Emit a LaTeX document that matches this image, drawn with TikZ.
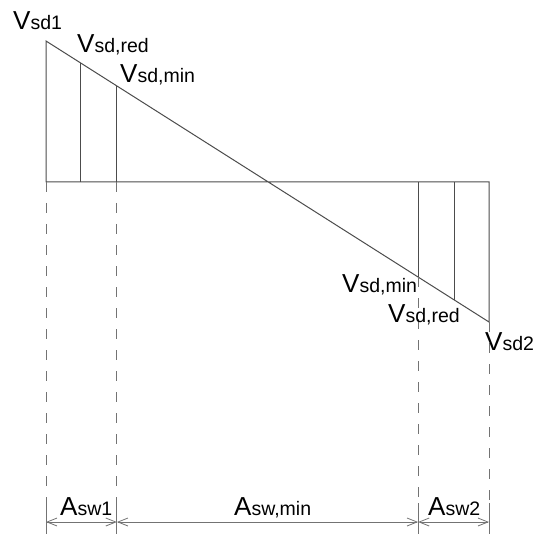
\documentclass[tikz,border=0pt]{standalone}
\usepackage{fontspec}
\setmainfont{Liberation Sans}
\usepackage{xcolor}
\usepackage{tikz}
\usetikzlibrary{arrows.meta,positioning,calc}
\definecolor{lineGray}{gray}{0.30}
\definecolor{dashGray}{gray}{0.45}
\newcommand{\shearlbl}[2]{{\fontsize{26}{28}\selectfont #1}{\fontsize{19.5}{21}\selectfont #2}}
\tikzset{
  outline/.style={draw=lineGray, line width=1pt},
  extline/.style={draw=dashGray, line width=1pt, dash pattern=on 10pt off 11pt},
  extsolid/.style={draw=dashGray, line width=1pt},
  dimarrow/.style={{Straight Barb[length=10pt,width=8pt]}-{Straight Barb[length=10pt,width=8pt]}, draw=dashGray, line width=0.8pt},
  lbl/.style={anchor=base west, inner sep=0pt, text=black}
}

\begin{document}
\begin{tikzpicture}[x=1pt, y=-1pt]
  \useasboundingbox (0,0) rectangle (533,534);
  \coordinate (top) at (46,41);
  \coordinate (bot) at (489,322);
  \coordinate (ol) at (46,182);
  \coordinate (or) at (489,182);
  \coordinate (r1) at ($(top)!0.077!(bot)$);
  \coordinate (r2) at ($(top)!0.160!(bot)$);
  \coordinate (r3) at ($(top)!0.840!(bot)$);
  \coordinate (r4) at ($(top)!0.923!(bot)$);
  \coordinate (q2) at (r2 |- ol);
  \coordinate (ext) at (0,503);
  \coordinate (dim) at (0,522);
  \coordinate (btm) at (0,534);
  % shear diagram
  \draw[outline] (ol) -- (top) -- (bot) -- (or) -- cycle;
  \foreach \r in {r1,r2,r3,r4}
    \draw[outline] (\r) -- (\r |- ol);
  % extension lines
  \foreach \p in {ol,q2,r3,bot} {
    \draw[extline] (\p) -- (\p |- ext);
    \draw[extsolid] (\p |- ext) -- (\p |- btm);
  }
  % dimension line
  \draw[dimarrow] (ol |- dim) -- (q2 |- dim);
  \draw[dimarrow] (q2 |- dim) -- (r3 |- dim);
  \draw[dimarrow] (r3 |- dim) -- (bot |- dim);
  % labels
  \node[lbl] (vsdone) at (13,30) {\shearlbl{V}{sd1}};
  \node[lbl] (vsdredup) at (77,53) {\shearlbl{V}{sd,red}};
  \node[lbl] (vsdminup) at (120,83) {\shearlbl{V}{sd,min}};
  \node[lbl] (vsdminlo) at (342,292) {\shearlbl{V}{sd,min}};
  \node[lbl] (vsdredlo) at (388,322) {\shearlbl{V}{sd,red}};
  \node[lbl] (vsdtwo) at (485,350) {\shearlbl{V}{sd2}};
  \node[lbl] (aswone) at (60,515) {\shearlbl{A}{sw1}};
  \node[lbl] (aswmin) at (234,515) {\shearlbl{A}{sw,min}};
  \node[lbl] (aswtwo) at (428,515) {\shearlbl{A}{sw2}};
\end{tikzpicture}
\end{document}
